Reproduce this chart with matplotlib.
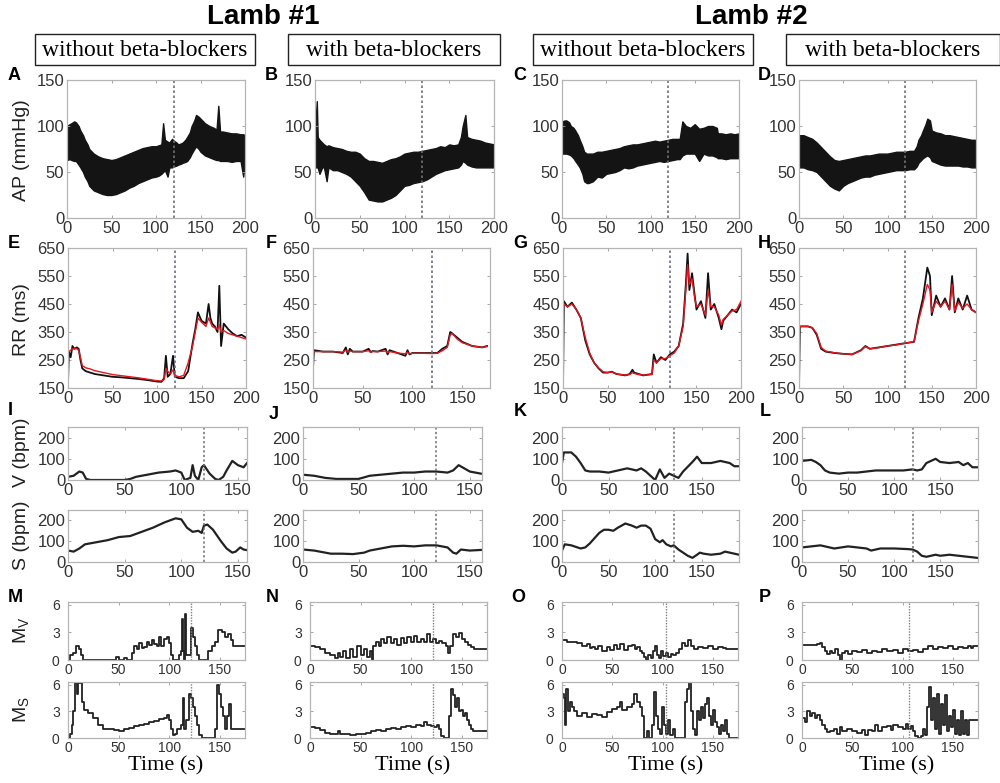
import matplotlib
matplotlib.use("Agg")
import matplotlib.pyplot as plt
from matplotlib.patches import Rectangle

# ---------------- data ----------------
# AP band (upper / lower envelope), mmHg, one set per recording
ap_t = {
    "A": [0, 3, 5, 8, 10, 13, 15, 18, 20, 23, 25, 28, 30, 35, 40, 45, 50, 55, 60, 65, 70, 75, 80, 85, 90, 95, 100, 103, 106, 108, 110, 113, 115, 118, 120, 123, 125, 128, 130, 133, 135, 138, 140, 143, 145, 148, 150, 155, 160, 165, 168, 170, 172, 175, 180, 185, 190, 195, 198, 200],
    "B": [0, 2, 3, 5, 8, 10, 13, 15, 20, 25, 30, 35, 40, 45, 50, 55, 60, 65, 70, 75, 80, 85, 90, 95, 100, 105, 110, 115, 120, 125, 130, 135, 140, 145, 150, 155, 160, 163, 165, 168, 170, 175, 180, 185, 190, 195, 200],
    "C": [0, 3, 5, 8, 10, 13, 15, 18, 20, 23, 25, 28, 30, 35, 40, 45, 50, 55, 60, 65, 70, 75, 80, 85, 90, 95, 100, 105, 110, 115, 120, 125, 130, 133, 136, 140, 145, 150, 155, 160, 165, 170, 175, 176, 180, 185, 190, 195, 200],
    "D": [0, 5, 10, 15, 20, 25, 30, 35, 40, 45, 50, 55, 60, 65, 70, 75, 80, 85, 90, 95, 100, 105, 110, 115, 120, 125, 130, 133, 135, 138, 140, 143, 145, 148, 150, 155, 160, 165, 170, 175, 180, 185, 190, 195, 200],
}
ap_hi = {
    "A": [100, 102, 103, 105, 104, 100, 95, 90, 85, 80, 75, 72, 70, 67, 65, 64, 63, 64, 66, 68, 70, 72, 74, 76, 77, 78, 78, 79, 80, 103, 85, 83, 82, 86, 84, 82, 80, 81, 82, 85, 88, 93, 100, 106, 112, 110, 108, 103, 100, 98, 96, 122, 94, 94, 93, 92, 92, 91, 91, 90],
    "B": [95, 127, 88, 85, 82, 80, 78, 79, 77, 76, 75, 73, 72, 72, 70, 65, 62, 62, 61, 60, 62, 64, 65, 67, 70, 71, 72, 72, 73, 74, 75, 76, 78, 77, 80, 79, 80, 88, 100, 112, 88, 86, 85, 84, 82, 81, 80],
    "C": [105, 106, 106, 104, 100, 98, 95, 90, 85, 78, 72, 70, 70, 70, 72, 72, 73, 74, 75, 76, 78, 79, 80, 80, 81, 82, 83, 84, 83, 84, 85, 86, 86, 86, 105, 100, 98, 102, 97, 98, 100, 100, 98, 92, 92, 91, 92, 91, 92],
    "D": [90, 90, 88, 86, 82, 77, 72, 67, 63, 62, 63, 64, 65, 66, 67, 68, 68, 69, 70, 70, 70, 71, 72, 72, 72, 73, 73, 78, 85, 90, 95, 102, 108, 106, 95, 93, 92, 90, 90, 89, 88, 87, 86, 85, 85],
}
ap_lo = {
    "A": [63, 64, 63, 62, 62, 58, 55, 50, 45, 40, 35, 32, 30, 28, 26, 25, 25, 26, 28, 30, 33, 35, 38, 40, 42, 44, 45, 46, 48, 50, 52, 45, 55, 55, 56, 57, 58, 59, 60, 61, 62, 66, 70, 75, 78, 75, 72, 68, 66, 64, 63, 63, 62, 62, 62, 61, 62, 62, 45, 62],
    "B": [55, 55, 55, 48, 55, 55, 40, 55, 52, 52, 50, 48, 45, 40, 35, 28, 20, 19, 18, 18, 20, 22, 25, 30, 35, 36, 38, 39, 40, 42, 45, 48, 50, 52, 53, 54, 55, 58, 62, 60, 58, 56, 55, 55, 55, 55, 55],
    "C": [70, 70, 70, 69, 68, 65, 62, 58, 55, 48, 40, 38, 38, 40, 45, 44, 48, 49, 50, 52, 55, 54, 55, 57, 58, 59, 60, 61, 62, 61, 62, 63, 64, 64, 68, 70, 70, 70, 62, 70, 68, 68, 66, 65, 65, 64, 65, 65, 65],
    "D": [55, 55, 53, 52, 50, 45, 40, 35, 32, 30, 35, 38, 40, 42, 44, 45, 45, 47, 48, 49, 50, 51, 52, 52, 52, 53, 53, 56, 60, 63, 65, 67, 68, 66, 62, 60, 58, 57, 57, 57, 57, 56, 56, 55, 55],
}

# RR intervals (ms): black = measured, red = fitted
rr_t = {
    "E": [0, 1, 3, 5, 7, 10, 12, 14, 16, 20, 25, 30, 40, 50, 60, 70, 80, 90, 100, 105, 108, 110, 112, 115, 118, 120, 125, 130, 135, 140, 143, 146, 150, 155, 158, 160, 162, 165, 168, 170, 172, 175, 180, 185, 190, 195, 200],
    "F": [0, 1, 10, 20, 30, 33, 35, 37, 40, 50, 56, 58, 60, 65, 73, 75, 77, 85, 93, 95, 97, 100, 110, 120, 125, 130, 135, 138, 140, 145, 150, 160, 170, 175],
    "G": [0, 1, 5, 10, 15, 20, 25, 30, 35, 40, 45, 50, 55, 60, 70, 75, 78, 80, 85, 90, 100, 102, 105, 110, 115, 120, 125, 130, 135, 138, 140, 142, 145, 148, 150, 155, 160, 163, 166, 170, 175, 178, 180, 185, 190, 195, 200],
    "H": [0, 1, 10, 15, 20, 25, 30, 40, 50, 60, 70, 75, 80, 90, 100, 110, 120, 130, 135, 140, 145, 148, 150, 155, 160, 165, 170, 173, 176, 180, 185, 190, 195, 200],
}
rr_black = {
    "E": [170, 280, 260, 300, 290, 295, 290, 250, 220, 210, 205, 200, 195, 190, 188, 185, 182, 178, 173, 172, 185, 265, 190, 200, 265, 190, 185, 185, 210, 310, 360, 420, 390, 380, 450, 400, 380, 370, 350, 515, 300, 380, 360, 345, 335, 340, 330],
    "F": [220, 285, 280, 280, 275, 295, 270, 290, 280, 280, 290, 278, 282, 280, 290, 270, 285, 275, 265, 285, 270, 275, 275, 275, 275, 290, 300, 350, 345, 330, 315, 300, 295, 300],
    "G": [150, 460, 440, 455, 430, 400, 320, 270, 240, 220, 205, 205, 208, 200, 195, 200, 215, 205, 200, 195, 200, 270, 240, 260, 250, 270, 280, 300, 380, 520, 630, 500, 560, 480, 430, 460, 400, 560, 430, 450, 400, 360, 390, 410, 430, 420, 450],
    "H": [150, 370, 370, 365, 340, 290, 280, 275, 272, 270, 285, 300, 290, 295, 300, 305, 310, 315, 400, 470, 580, 550, 410, 480, 440, 470, 430, 550, 420, 470, 430, 480, 430, 420],
}
rr_red = {
    "E": [280, 280, 285, 290, 290, 290, 285, 260, 230, 222, 218, 212, 205, 198, 194, 190, 186, 181, 176, 175, 180, 220, 210, 200, 215, 195, 190, 195, 240, 300, 350, 400, 385, 370, 400, 385, 370, 365, 360, 375, 350, 355, 345, 340, 335, 330, 325],
    "F": [280, 280, 280, 280, 278, 285, 278, 282, 280, 280, 283, 278, 280, 280, 282, 276, 280, 275, 272, 278, 272, 274, 274, 273, 274, 283, 295, 340, 345, 325, 312, 300, 295, 298],
    "G": [450, 450, 440, 450, 430, 400, 330, 275, 240, 222, 208, 205, 207, 200, 196, 198, 205, 202, 198, 196, 198, 250, 240, 255, 255, 265, 275, 300, 370, 500, 590, 520, 540, 470, 440, 450, 410, 500, 440, 440, 410, 375, 395, 410, 425, 430, 460],
    "H": [370, 370, 370, 365, 345, 295, 282, 276, 272, 270, 283, 298, 290, 294, 300, 304, 310, 315, 390, 450, 520, 500, 420, 460, 440, 460, 430, 520, 425, 455, 435, 450, 430, 420],
}

# V and S (bpm)
vs_t = {
    "I": [0, 5, 10, 13, 16, 20, 30, 40, 50, 55, 60, 70, 80, 90, 95, 100, 103, 108, 110, 112, 115, 118, 120, 125, 130, 133, 137, 140, 145, 150, 155, 158],
    "J": [0, 10, 20, 30, 40, 50, 60, 70, 80, 90, 100, 110, 120, 130, 135, 140, 145, 150, 160],
    "K": [0, 2, 10, 15, 20, 25, 30, 40, 50, 60, 70, 80, 85, 90, 95, 100, 105, 110, 115, 120, 125, 130, 140, 145, 150, 160, 170, 180, 185, 190],
    "L": [0, 10, 15, 20, 25, 30, 40, 50, 60, 70, 80, 90, 100, 110, 120, 125, 130, 135, 145, 150, 160, 170, 175, 180, 185, 190],
}
v_bpm = {
    "I": [15, 20, 40, 35, 5, 0, 0, 0, 0, 5, 15, 25, 35, 40, 45, 35, 0, 10, 70, 20, 0, 60, 70, 30, 5, 0, 15, 45, 90, 70, 60, 80],
    "J": [25, 20, 10, 5, 5, 5, 20, 25, 30, 35, 35, 40, 40, 35, 45, 70, 55, 40, 30],
    "K": [80, 130, 130, 110, 80, 45, 40, 40, 35, 45, 55, 45, 55, 40, 20, 0, 50, 10, 30, 20, 10, 40, 85, 110, 80, 80, 90, 80, 65, 65],
    "L": [90, 95, 85, 70, 45, 35, 30, 35, 35, 40, 45, 45, 45, 45, 50, 45, 50, 80, 100, 85, 80, 85, 70, 80, 60, 60],
}
s_t = {
    "I": [0, 5, 10, 15, 25, 35, 45, 55, 65, 75, 85, 95, 100, 105, 110, 115, 118, 120, 123, 128, 135, 140, 145, 148, 152, 155, 160],
    "J": [0, 10, 20, 25, 35, 45, 55, 60, 70, 80, 90, 100, 110, 120, 125, 130, 135, 138, 142, 150, 160],
    "K": [0, 3, 10, 20, 25, 30, 40, 45, 50, 55, 60, 68, 75, 80, 85, 90, 95, 100, 105, 108, 112, 117, 120, 125, 130, 135, 140, 145, 148, 152, 160, 170, 175, 180, 190],
    "L": [0, 10, 20, 25, 35, 50, 60, 70, 75, 85, 100, 115, 120, 125, 130, 135, 145, 150, 160, 170, 180, 190],
}
s_bpm = {
    "I": [55, 50, 65, 85, 95, 105, 120, 125, 145, 165, 190, 210, 205, 165, 145, 150, 140, 175, 180, 155, 100, 65, 45, 50, 70, 60, 55],
    "J": [60, 55, 45, 40, 40, 38, 45, 55, 65, 75, 78, 75, 80, 80, 75, 70, 45, 40, 60, 55, 58],
    "K": [55, 85, 80, 65, 70, 90, 140, 155, 155, 150, 165, 185, 175, 165, 175, 175, 160, 110, 95, 105, 85, 75, 80, 60, 45, 30, 20, 35, 45, 40, 35, 40, 50, 45, 35],
    "L": [70, 75, 80, 75, 65, 75, 70, 65, 55, 65, 65, 62, 60, 50, 30, 25, 35, 30, 35, 30, 25, 20],
}

# M_V and M_S (step series)
mv_t = {
    "M": [0, 2, 5, 8, 11, 13, 15, 45, 47, 50, 55, 58, 63, 65, 68, 70, 73, 75, 78, 80, 83, 85, 88, 90, 92, 95, 98, 100, 102, 104, 110, 112, 113, 114, 115, 116, 117, 120, 122, 124, 126, 128, 130, 138, 142, 145, 148, 152, 155, 158, 161, 163, 175],
    "N": [0, 5, 10, 15, 20, 25, 28, 30, 33, 36, 40, 43, 46, 50, 53, 56, 59, 61, 62, 65, 68, 70, 73, 76, 80, 83, 86, 90, 93, 96, 100, 103, 106, 110, 113, 116, 119, 122, 125, 128, 131, 134, 136, 138, 141, 144, 147, 150, 153, 156, 159, 162, 180],
    "O": [0, 5, 10, 15, 20, 25, 28, 30, 33, 36, 40, 45, 48, 52, 55, 58, 62, 66, 70, 73, 75, 78, 80, 82, 84, 86, 88, 90, 92, 94, 96, 98, 100, 103, 105, 108, 110, 113, 116, 119, 122, 125, 128, 131, 135, 140, 145, 150, 155, 160, 163, 175],
    "P": [0, 10, 15, 18, 20, 23, 25, 28, 30, 33, 36, 38, 40, 43, 46, 50, 55, 60, 65, 70, 75, 80, 85, 90, 95, 100, 105, 110, 115, 120, 125, 130, 135, 140, 145, 150, 155, 160, 165, 168, 170, 175],
}
mv_val = {
    "M": [0, 0.5, 0.8, 1.5, 1.2, 0.5, 0, 0, 0.3, 0, 0.2, 0, 0.8, 1.5, 1.2, 1.8, 1.3, 1.4, 2.0, 1.6, 2.2, 1.7, 1.5, 2.5, 1.5, 2.3, 2.5, 1.8, 0.5, 0, 0.5, 1.0, 4.5, 1.0, 0, 5.0, 0.5, 0.5, 3.5, 2.5, 1.5, 0.5, 0, 1.0, 1.5, 2.0, 3.3, 3.0, 2.5, 2.8, 2.2, 1.5, 1.5],
    "N": [1.5, 1.4, 1.2, 0.8, 0.5, 0.2, 0.8, 0.3, 1.0, 0.2, 1.2, 0.3, 1.5, 0.5, 1.2, 0.3, 1.0, 0, 1.5, 2.0, 1.5, 2.3, 1.8, 2.5, 1.8, 2.3, 1.6, 2.4, 1.9, 2.5, 2.0, 2.6, 2.0, 2.3, 2.0, 2.8, 2.0, 2.3, 1.9, 2.1, 1.8, 1.5, 0.8, 1.5, 2.8, 2.5, 2.9, 2.3, 2.0, 1.6, 1.4, 1.2, 1.2],
    "O": [2.2, 2.0, 2.0, 1.8, 1.5, 1.7, 1.3, 1.4, 1.2, 1.5, 1.0, 1.4, 1.1, 1.6, 1.2, 1.7, 1.1, 1.5, 1.6, 1.2, 1.4, 1.0, 0.8, 0.3, 0, 0.5, 0.2, 1.0, 1.5, 0.5, 0.2, 1.0, 0.4, 0.8, 0.3, 0.6, 0.5, 0.8, 1.2, 1.8, 1.5, 2.2, 1.5, 1.2, 1.4, 1.3, 1.5, 1.2, 1.4, 1.3, 1.2, 1.2],
    "P": [1.6, 1.6, 1.7, 1.8, 1.4, 1.0, 0.7, 1.0, 0.8, 1.2, 0.5, 0, 0.8, 1.0, 0.6, 1.0, 0.9, 1.1, 0.8, 1.0, 0.9, 1.2, 1.0, 1.1, 0.8, 1.2, 1.0, 1.1, 0.9, 1.2, 1.5, 1.2, 1.4, 1.3, 1.5, 1.2, 1.4, 1.3, 1.5, 1.3, 1.5, 1.5],
}
ms_t = {
    "M": [0, 2, 4, 5, 7, 9, 10, 12, 14, 16, 20, 25, 30, 35, 40, 45, 50, 55, 60, 65, 70, 75, 80, 85, 90, 95, 98, 100, 102, 104, 106, 108, 112, 114, 115, 117, 120, 122, 124, 126, 128, 130, 132, 143, 145, 147, 149, 151, 153, 155, 157, 159, 161, 163, 175],
    "N": [0, 5, 10, 15, 20, 25, 28, 30, 35, 40, 45, 50, 55, 60, 65, 70, 75, 80, 85, 90, 95, 100, 105, 110, 113, 116, 120, 123, 126, 128, 130, 132, 135, 137, 139, 141, 143, 145, 147, 149, 151, 153, 155, 157, 159, 161, 180],
    "O": [0, 2, 3, 4, 6, 8, 10, 12, 15, 20, 25, 30, 35, 40, 45, 50, 55, 58, 60, 65, 70, 72, 75, 78, 80, 82, 85, 87, 89, 91, 93, 95, 97, 99, 101, 103, 105, 107, 110, 112, 120, 122, 124, 126, 128, 130, 132, 134, 136, 138, 140, 142, 144, 146, 148, 150, 152, 154, 156, 158, 160, 162, 164, 166, 175],
    "P": [0, 3, 5, 8, 10, 13, 15, 18, 20, 23, 25, 28, 32, 35, 38, 40, 45, 50, 55, 60, 63, 66, 70, 73, 76, 80, 85, 88, 90, 95, 100, 103, 105, 108, 110, 112, 115, 118, 120, 122, 124, 126, 128, 130, 132, 134, 136, 138, 140, 142, 144, 146, 148, 150, 152, 154, 156, 158, 160, 162, 164, 166, 175],
}
ms_val = {
    "M": [0, 0.5, 1.5, 3.0, 6.2, 5.0, 6.2, 6.2, 4.0, 3.2, 2.8, 2.2, 1.5, 1.0, 1.0, 0.9, 0.8, 1.0, 1.1, 1.3, 1.5, 1.6, 1.8, 1.9, 2.1, 2.3, 2.6, 2.0, 1.0, 0.3, 0.5, 1.0, 1.5, 4.5, 1.0, 2.0, 5.0, 4.5, 3.5, 2.5, 1.5, 0.3, 0, 0, 1.0, 6.0, 5.0, 3.5, 2.5, 1.0, 2.5, 3.8, 1.0, 1.0, 1.0],
    "N": [1.2, 1.1, 0.9, 0.6, 0.5, 0.4, 0.8, 0.4, 0.5, 0.3, 0.5, 0.4, 0.6, 0.8, 0.9, 0.8, 1.0, 1.1, 1.0, 1.2, 1.3, 1.2, 1.5, 1.4, 1.8, 1.5, 1.4, 1.2, 1.5, 1.0, 0.2, 0, 0, 2.5, 5.5, 4.8, 3.5, 4.5, 3.0, 3.2, 2.5, 2.8, 2.0, 1.5, 1.0, 0.8, 0.8],
    "O": [5.0, 4.5, 1.5, 5.5, 3.0, 4.0, 3.5, 3.0, 2.5, 2.8, 2.4, 2.7, 2.6, 2.4, 2.9, 3.3, 3.5, 4.0, 3.2, 3.5, 3.8, 5.0, 4.0, 3.5, 2.5, 0, 0.8, 0, 1.5, 5.2, 2.5, 1.0, 0.5, 3.5, 1.5, 0.5, 2.0, 0.3, 1.0, 0, 0, 4.0, 5.5, 6.3, 3.0, 1.0, 0.3, 3.0, 2.0, 3.5, 2.2, 3.8, 4.5, 2.5, 1.5, 3.2, 1.8, 1.2, 0.5, 1.5, 0.8, 2.0, 0.5, 0, 0],
    "P": [2.2, 1.8, 3.0, 2.5, 2.8, 2.3, 2.6, 2.0, 1.5, 1.0, 0.7, 0.8, 1.0, 0.5, 1.2, 0.8, 1.0, 0.8, 0.6, 0.9, 0.3, 0.9, 0.8, 1.5, 0.8, 1.2, 1.3, 0.9, 1.5, 1.2, 1.0, 1.6, 1.0, 1.3, 0.8, 0.2, 0, 0.2, 1.0, 0.3, 3.5, 5.7, 2.0, 4.5, 1.0, 5.0, 0.5, 3.8, 1.5, 4.8, 0.8, 2.5, 1.2, 3.2, 0.5, 2.0, 0.3, 3.0, 0.5, 2.0, 0.3, 2.0, 2.0],
}

# where the dashed marker sits in each panel (s)
m_mark = {"M": 122, "N": 122, "O": 103, "P": 106}

# ---------------- layout (pixels) ----------------
W, H = 1000, 783
fig = plt.figure(figsize=(10, 7.83), dpi=100)
plt.rcParams['font.family'] = ['Liberation Sans', 'DejaVu Sans']

def add_ax(x0, y0, x1, y1):
    return fig.add_axes([x0 / W, 1 - y1 / H, (x1 - x0) / W, (y1 - y0) / H])

def style(ax, fs):
    for s in ax.spines.values():
        s.set_color('#b5b5b5')
        s.set_linewidth(0.9)
    ax.tick_params(direction='in', length=2.5, width=0.6, color='#999999',
                   labelsize=fs, labelcolor='#333333', top=True, right=True, pad=2)

def ptext(x, y, s, **kw):
    fig.text(x / W, 1 - y / H, s, **kw)

ap_cols = [(67, 245), (315, 494), (562, 739), (799, 976)]
rr_cols = [(68, 246), (313, 490), (563, 741), (799, 976)]
vs_cols = [(68, 247), (303, 482), (562, 739), (802, 978)]
m_cols = [(68, 245), (310, 487), (562, 738), (802, 978)]

ap_keys = ["A", "B", "C", "D"]
rr_keys = ["E", "F", "G", "H"]
v_keys = ["I", "J", "K", "L"]
m_keys = ["M", "N", "O", "P"]
rr_xmax = [200, 178, 200, 200]
vs_xmax = [158, 161, 190, 191]
time_x = [166, 413, 666, 897]

for i in range(4):
    # AP
    ax = add_ax(ap_cols[i][0], 80, ap_cols[i][1], 218)
    k = ap_keys[i]
    ax.fill_between(ap_t[k], ap_lo[k], ap_hi[k], color='#141414', lw=1.0, edgecolor='#141414')
    ax.axvline(120, color='#707070', ls=(0, (1.5, 1.5)), lw=1.2)
    ax.set_xlim(0, 200)
    ax.set_ylim(0, 150)
    ax.set_xticks([0, 50, 100, 150, 200])
    ax.set_yticks([0, 50, 100, 150])
    style(ax, 12)

    # RR
    ax = add_ax(rr_cols[i][0], 248, rr_cols[i][1], 388)
    k = rr_keys[i]
    ax.plot(rr_t[k], rr_black[k], color='#111111', lw=1.3)
    ax.plot(rr_t[k], rr_red[k], color='#e8141e', lw=1.0)
    ax.axvline(120, color='#6a7080', ls=(0, (1.5, 1.5)), lw=1.2)
    ax.set_xlim(0, rr_xmax[i])
    ax.set_ylim(150, 650)
    ax.set_xticks([t for t in [0, 50, 100, 150, 200] if t <= rr_xmax[i]])
    ax.set_yticks([150, 250, 350, 450, 550, 650])
    style(ax, 12)

    # V
    ax = add_ax(vs_cols[i][0], 427, vs_cols[i][1], 480)
    k = v_keys[i]
    ax.plot(vs_t[k], v_bpm[k], color='#222222', lw=1.6)
    ax.axvline(120, color='#707070', ls=(0, (1.5, 1.5)), lw=1.1)
    ax.set_xlim(0, vs_xmax[i])
    ax.set_ylim(0, 250)
    ax.set_xticks([0, 50, 100, 150])
    ax.set_yticks([0, 100, 200])
    style(ax, 12)

    # S
    ax = add_ax(vs_cols[i][0], 510, vs_cols[i][1], 562)
    ax.plot(s_t[k], s_bpm[k], color='#222222', lw=1.6)
    ax.axvline(120, color='#707070', ls=(0, (1.5, 1.5)), lw=1.1)
    ax.set_xlim(0, vs_xmax[i])
    ax.set_ylim(0, 250)
    ax.set_xticks([0, 50, 100, 150])
    ax.set_yticks([0, 100, 200])
    style(ax, 12)

    # M_V / M_S
    k = m_keys[i]
    for (y0, y1, tt, vv) in [(602, 660, mv_t, mv_val), (682, 738, ms_t, ms_val)]:
        ax = add_ax(m_cols[i][0], y0, m_cols[i][1], y1)
        ax.step(tt[k], vv[k], where='post', color='#222222', lw=1.3)
        ax.axvline(m_mark[k], color='#808080', ls=(0, (1, 1)), lw=1.0)
        ax.set_xlim(0, 175)
        ax.set_ylim(0, 6.3)
        ax.set_xticks([0, 50, 100, 150])
        ax.set_yticks([0, 3, 6])
        style(ax, 10)
        ax.tick_params(axis='y', pad=6)

    ptext(time_x[i], 766, "Time (s)", family='Liberation Serif',
          fontsize=16, ha='center', va='center')

# panel letters
letter_pos = {
    "A": (14, 75), "B": (271, 75), "C": (520, 75), "D": (764, 75),
    "E": (14, 243), "F": (271, 243), "G": (520, 243), "H": (764, 243),
    "I": (10, 410), "J": (274, 415), "K": (520, 412), "L": (765, 412),
    "M": (15, 597), "N": (272, 597), "O": (518, 597), "P": (765, 597),
}
for s, (x, y) in letter_pos.items():
    ptext(x, y, s, fontsize=13, fontweight='bold', ha='center', va='center')

# y labels
ptext(22, 150, "AP (mmHg)", fontsize=14, rotation=90, ha='center', va='center', color='#222222')
ptext(22, 320, "RR (ms)", fontsize=14, rotation=90, ha='center', va='center', color='#222222')
ptext(22, 452, "V (bpm)", fontsize=14, rotation=90, ha='center', va='center', color='#222222')
ptext(22, 535, "S (bpm)", fontsize=14, rotation=90, ha='center', va='center', color='#222222')
ptext(22, 630, r"M$_\mathregular{V}$", fontsize=14, rotation=90, ha='center', va='center', color='#222222')
ptext(22, 710, r"M$_\mathregular{S}$", fontsize=14, rotation=90, ha='center', va='center', color='#222222')

# titles and condition boxes
ptext(263, 17, "Lamb #1", fontsize=20, fontweight='bold', ha='center', va='center')
ptext(751, 17, "Lamb #2", fontsize=20, fontweight='bold', ha='center', va='center')
boxes = [(35, 255, "without beta-blockers"), (288, 500, "with beta-blockers"),
         (533, 753, "without beta-blockers"), (786, 1000, "with beta-blockers")]
for x0, x1, lab in boxes:
    fig.patches.append(Rectangle((x0 / W, 1 - 65 / H), (x1 - x0) / W, 31 / H,
                                 transform=fig.transFigure, fill=False, lw=1.0, ec='#222222'))
    ptext((x0 + x1) / 2, 50, lab, family='Liberation Serif', fontsize=17, ha='center', va='center')

fig.savefig("out.png", dpi=100)
